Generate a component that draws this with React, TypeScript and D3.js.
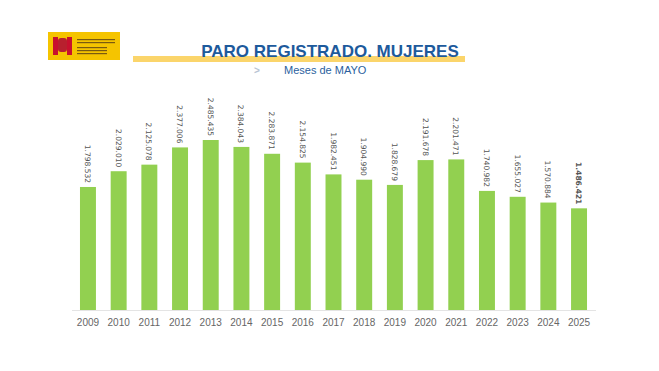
import React, { useEffect, useRef } from 'react';
import * as d3 from 'd3';

const years = ['2009', '2010', '2011', '2012', '2013', '2014', '2015', '2016', '2017', '2018', '2019', '2020', '2021', '2022', '2023', '2024', '2025'];
const parados = [1798532, 2029010, 2125078, 2377006, 2485435, 2384043, 2283871, 2154825, 1982451, 1904990, 1828679, 2191678, 2201471, 1740982, 1655027, 1570884, 1486421];
const valueLabels = ['1.798.532', '2.029.010', '2.125.078', '2.377.006', '2.485.435', '2.384.043', '2.283.871', '2.154.825', '1.982.451', '1.904.990', '1.828.679', '2.191.678', '2.201.471', '1.740.982', '1.655.027', '1.570.884', '1.486.421'];

const W = 659;
const H = 371;

const App = () => {
  const ref = useRef<SVGSVGElement>(null);

  useEffect(() => {
    const svg = d3.select(ref.current);
    svg.selectAll('*').remove();

    svg.append('rect').attr('width', W).attr('height', H).attr('fill', '#fff');

    // logo
    const logo = svg.append('g');
    logo.append('rect').attr('x', 48).attr('y', 32).attr('width', 72).attr('height', 28).attr('fill', '#f5c400');
    logo.append('rect').attr('x', 53).attr('y', 37).attr('width', 5).attr('height', 18).attr('fill', '#c8102e');
    logo.append('rect').attr('x', 58).attr('y', 38).attr('width', 9).attr('height', 14).attr('rx', 3).attr('fill', '#b8202e');
    logo.append('rect').attr('x', 67).attr('y', 37).attr('width', 5).attr('height', 18).attr('fill', '#c8102e');
    [39, 42, 47, 50, 53].forEach((y, i) => {
      logo.append('rect').attr('x', 77).attr('y', y).attr('width', i < 2 ? 38 : 30).attr('height', 1.2).attr('fill', '#7a5a10');
    });

    // title
    svg.append('rect').attr('x', 133).attr('y', 56).attr('width', 332).attr('height', 6).attr('fill', '#fbd56b');
    svg.append('text')
      .attr('x', 330).attr('y', 57)
      .attr('text-anchor', 'middle')
      .style('font-family', 'Arial, "Liberation Sans", sans-serif')
      .style('font-weight', 'bold')
      .style('font-size', '17px')
      .attr('fill', '#1d5a9c')
      .text('PARO REGISTRADO. MUJERES');
    svg.append('text')
      .attr('x', 254).attr('y', 74)
      .style('font-family', 'Arial, "Liberation Sans", sans-serif')
      .style('font-size', '10px')
      .style('font-weight', 'bold')
      .attr('fill', '#b8c4d4')
      .text('>');
    svg.append('text')
      .attr('x', 284).attr('y', 74)
      .style('font-family', 'Arial, "Liberation Sans", sans-serif')
      .style('font-size', '11px')
      .attr('fill', '#2b5f9e')
      .text('Meses de MAYO');

    // chart
    const baseline = 310;
    const x = d3.scaleBand().domain(years).range([72, 595]).paddingInner(0.48).paddingOuter(0.26);
    const y = d3.scaleLinear().domain([0, 2500000]).range([baseline, baseline - 171]);

    svg.append('g')
      .selectAll('rect')
      .data(parados)
      .join('rect')
      .attr('x', (_, i) => x(years[i])!)
      .attr('y', (d) => y(d))
      .attr('width', x.bandwidth())
      .attr('height', (d) => baseline - y(d))
      .attr('fill', '#92d050');

    svg.append('line')
      .attr('x1', 72).attr('x2', 596)
      .attr('y1', baseline + 0.5).attr('y2', baseline + 0.5)
      .attr('stroke', '#e4e4e4');

    svg.append('g')
      .selectAll('text')
      .data(years)
      .join('text')
      .attr('x', (d) => x(d)! + x.bandwidth() / 2)
      .attr('y', baseline + 16)
      .attr('text-anchor', 'middle')
      .style('font-family', 'Arial, "Liberation Sans", sans-serif')
      .style('font-size', '10px')
      .attr('fill', '#666')
      .text((d) => d);

    svg.append('g')
      .selectAll('text')
      .data(parados)
      .join('text')
      .attr('transform', (d, i) => `translate(${x(years[i])! + x.bandwidth() / 2 - 3},${y(d) - 4}) rotate(90)`)
      .attr('text-anchor', 'end')
      .style('font-family', '"DejaVu Sans", Verdana, sans-serif')
      .style('font-size', '7.5px')
      .style('font-weight', (_, i) => (i === parados.length - 1 ? 'bold' : 'normal'))
      .attr('fill', '#555')
      .text((_, i) => valueLabels[i]);
  }, []);

  return <svg ref={ref} width={W} height={H} style={{ display: 'block', margin: -8 }} />;
};

export default App;
